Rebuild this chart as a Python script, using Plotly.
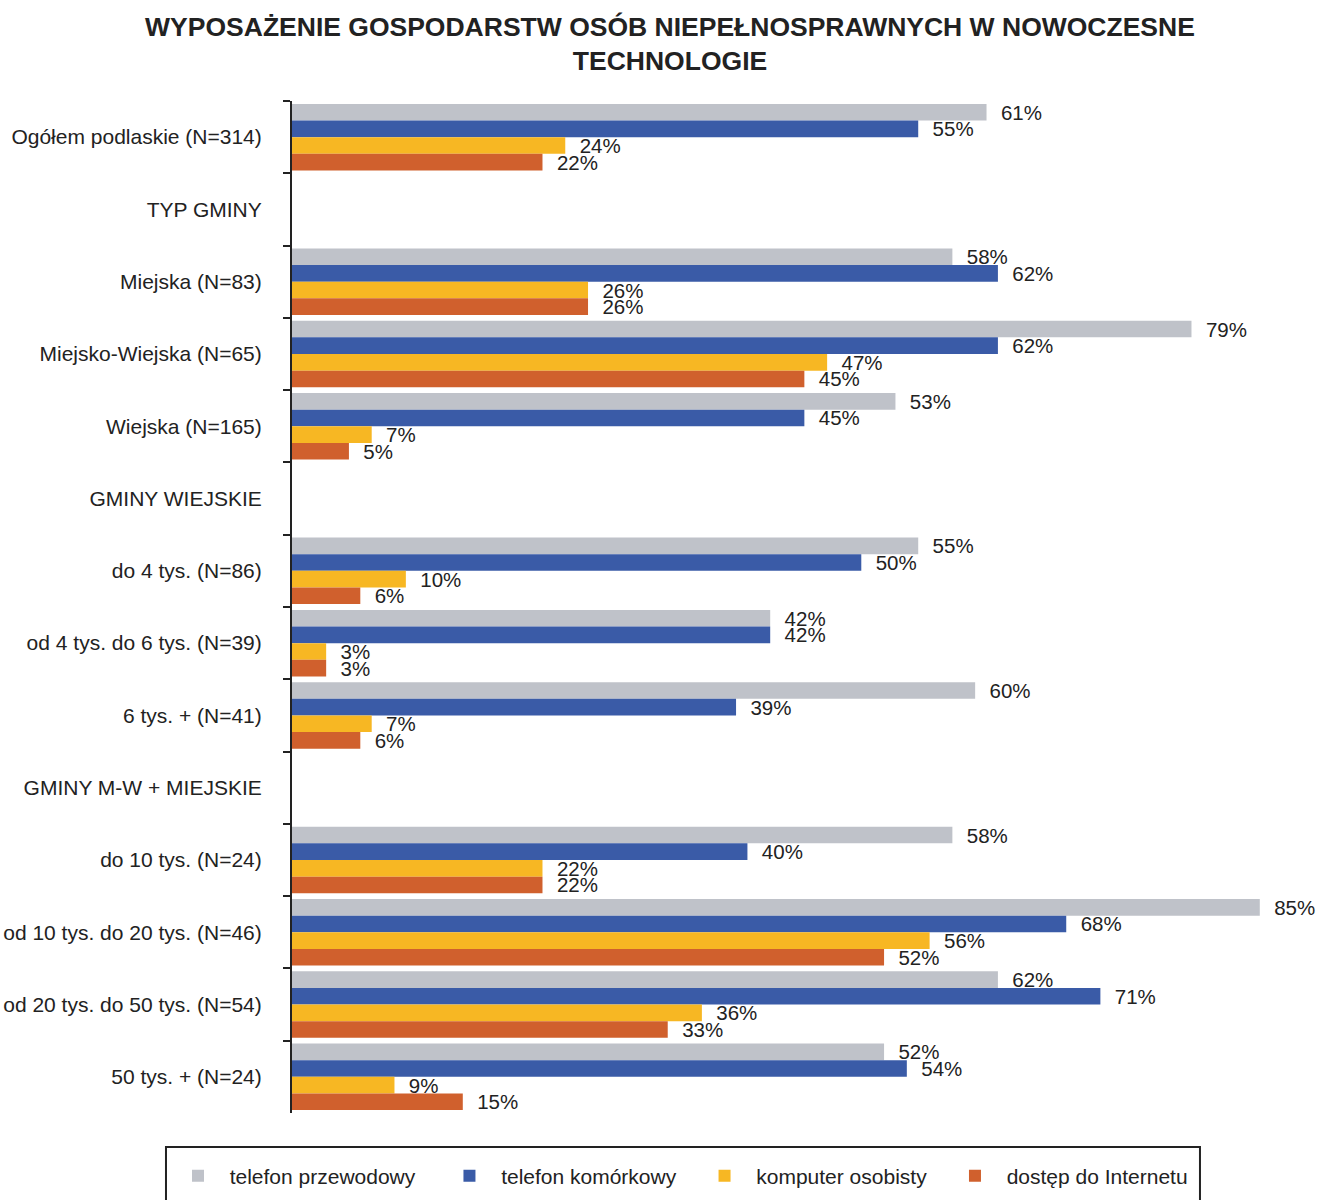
import plotly.graph_objects as go

categories = [
    "Ogółem podlaskie (N=314)",
    "TYP GMINY",
    "Miejska (N=83)",
    "Miejsko-Wiejska (N=65)",
    "Wiejska (N=165)",
    "GMINY WIEJSKIE",
    "do 4 tys. (N=86)",
    "od 4 tys. do 6 tys. (N=39)",
    "6 tys. + (N=41)",
    "GMINY M-W + MIEJSKIE",
    "do 10 tys. (N=24)",
    "od 10 tys. do 20 tys. (N=46)",
    "od 20 tys. do 50 tys. (N=54)",
    "50 tys. + (N=24)",
]

telefon_przewodowy = [61, None, 58, 79, 53, None, 55, 42, 60, None, 58, 85, 62, 52]
telefon_komorkowy = [55, None, 62, 62, 45, None, 50, 42, 39, None, 40, 68, 71, 54]
komputer_osobisty = [24, None, 26, 47, 7, None, 10, 3, 7, None, 22, 56, 36, 9]
dostep_do_internetu = [22, None, 26, 45, 5, None, 6, 3, 6, None, 22, 52, 33, 15]

series = [
    ("telefon przewodowy", telefon_przewodowy, "#BFC2C9", 5),
    ("telefon komórkowy", telefon_komorkowy, "#3A5BA7", 4),
    ("komputer osobisty", komputer_osobisty, "#F7B723", 4),
    ("dostęp do Internetu", dostep_do_internetu, "#D0602D", 0),
]

FONT = "Liberation Sans, Arial, sans-serif"
NB = "\u00a0"

fig = go.Figure()
for name, vals, color, trail in series:
    fig.add_trace(go.Bar(
        y=categories,
        x=vals,
        name=NB * 2 + name + NB * trail,
        orientation="h",
        marker=dict(color=color, line=dict(width=0)),
        text=[(NB * 2 + "%d%%" % v) if v is not None else "" for v in vals],
        textposition="outside",
        constraintext="none",
        cliponaxis=False,
        textfont=dict(family=FONT, size=20.5, color="#222222"),
        hoverinfo="skip",
    ))

# legend frame
fig.add_shape(
    type="rect", xref="paper", yref="paper",
    x0=-0.1227, x1=0.8841, y0=-0.0336, y1=-0.12,
    line=dict(color="#222222", width=2), fillcolor="rgba(0,0,0,0)",
)

fig.update_layout(
    width=1319,
    height=1200,
    margin=dict(l=292, r=0, t=101, b=87, autoexpand=False),
    paper_bgcolor="white",
    plot_bgcolor="white",
    barmode="group",
    bargap=0.08,
    bargroupgap=0,
    font=dict(family=FONT, color="#222222"),
    title=dict(
        text="WYPOSAŻENIE GOSPODARSTW OSÓB NIEPEŁNOSPRAWNYCH W NOWOCZESNE<br>TECHNOLOGIE",
        x=670 / 1319, xanchor="center",
        y=1 - 35.6 / 1200, yanchor="top",
        font=dict(family=FONT, size=26.5, color="#222222", weight="bold"),
    ),
    xaxis=dict(
        range=[0, 90.2],
        visible=False,
        showgrid=False,
        zeroline=False,
        automargin=False,
    ),
    yaxis=dict(
        type="category",
        categoryorder="array",
        categoryarray=categories,
        autorange="reversed",
        automargin=False,
        showline=True,
        linecolor="#222222",
        linewidth=2,
        ticks="outside",
        tickson="boundaries",
        ticklen=7,
        tickwidth=2,
        tickcolor="#222222",
        ticklabelstandoff=24,
        showgrid=False,
        tickfont=dict(family=FONT, size=21, color="#222222"),
    ),
    legend=dict(
        orientation="h",
        x=-0.111, xanchor="left",
        y=-0.0623, yanchor="middle",
        borderwidth=0,
        bgcolor="rgba(0,0,0,0)",
        font=dict(family=FONT, size=21, color="#222222"),
        entrywidth=0,
        traceorder="normal",
    ),
)

fig.write_html(
    "out.html",
    config={"displayModeBar": False},
    post_script="document.body.style.margin='0';document.body.style.overflow='hidden';",
)
